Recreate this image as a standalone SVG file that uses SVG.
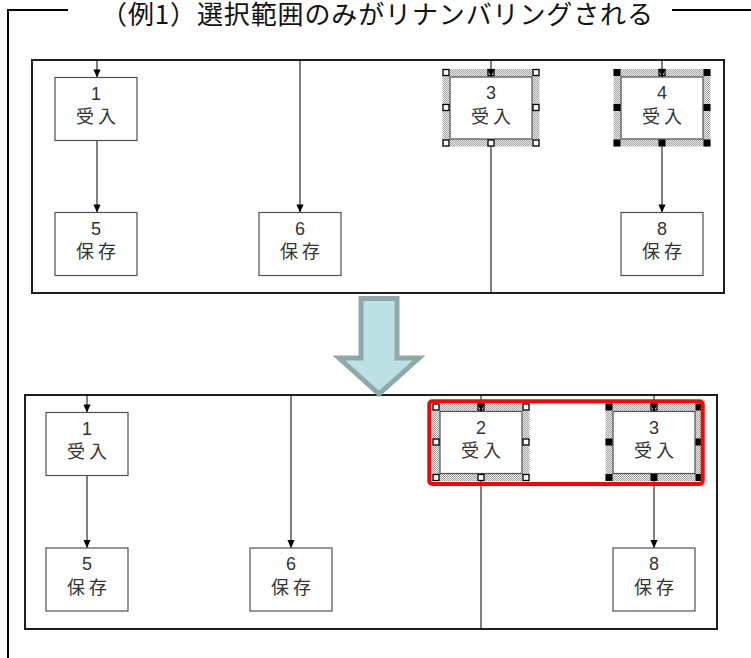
<svg xmlns="http://www.w3.org/2000/svg" width="751" height="658" viewBox="0 0 751 658">
<style>
.frame{fill:none;stroke:#000;stroke-width:2}
.panel{fill:#fff;stroke:#1e1e1e;stroke-width:2}
.box{fill:#fff;stroke:#505050;stroke-width:1.2}
.lbl{font-family:"Noto Sans CJK JP","Noto Sans",sans-serif;font-size:18px;fill:#333;text-anchor:middle;letter-spacing:4px}
.num{font-family:"Liberation Sans","Noto Sans",sans-serif;font-size:18px;fill:#333;text-anchor:middle}
.title{font-family:"Noto Sans CJK JP","Noto Sans",sans-serif;font-size:26px;fill:#111;text-anchor:middle}
.conn{fill:none;stroke:#000;stroke-width:1}
.hatch{fill:url(#dots)}
.hw{fill:#fff;stroke:#000;stroke-width:1.3}
.hb{fill:#000}
.sel{fill:none;stroke:#ff0000;stroke-width:4}
</style>
<defs>
<pattern id="dots" width="2" height="2" patternUnits="userSpaceOnUse">
<rect width="2" height="2" fill="#efefef"/>
<rect width="1" height="1" fill="#a0a0a0"/>
<rect x="1" y="1" width="1" height="1" fill="#a0a0a0"/>
</pattern>
<marker id="ah" viewBox="0 0 10 10" refX="10" refY="5" markerWidth="9" markerHeight="8" markerUnits="userSpaceOnUse" orient="auto">
<path d="M0,0.5 L10,5 L0,9.5 z" fill="#000"/>
</marker>
</defs>
<rect width="751" height="658" fill="#fff"/>

<g id="outer-frame">
<polyline class="frame" points="68,10 8,10 8,658"/>
<line class="frame" x1="672" y1="10" x2="751" y2="10"/>
<text class="title" x="377" y="24" textLength="552" lengthAdjust="spacing">（例1）選択範囲のみがリナンバリングされる</text>
</g>

<g id="panel-top"><rect class="panel" x="32" y="60" width="692" height="233"/></g>
<g id="panel-bottom"><rect class="panel" x="25" y="395" width="692" height="234"/></g>

<g id="connectors">
<line class="conn" x1="97" y1="60" x2="97" y2="77.5" marker-end="url(#ah)"/>
<line class="conn" x1="97" y1="140.5" x2="97" y2="212.5" marker-end="url(#ah)"/>
<line class="conn" x1="300" y1="60" x2="300" y2="212.5" marker-end="url(#ah)"/>
<line class="conn" x1="491" y1="139" x2="491" y2="293"/>
<line class="conn" x1="662" y1="139" x2="662" y2="212.5" marker-end="url(#ah)"/>
<line class="conn" x1="87" y1="395" x2="87" y2="412.5" marker-end="url(#ah)"/>
<line class="conn" x1="87" y1="475.5" x2="87" y2="548" marker-end="url(#ah)"/>
<line class="conn" x1="291" y1="395" x2="291" y2="548" marker-end="url(#ah)"/>
<line class="conn" x1="481" y1="473.5" x2="481" y2="629"/>
<line class="conn" x1="654" y1="473.5" x2="654" y2="548" marker-end="url(#ah)"/>
</g>

<g id="t-node1"><rect class="box" x="55" y="77.5" width="82" height="63"/><text class="num" x="96" y="99.5">1</text><text class="lbl" x="98" y="123">受入</text></g>
<g id="t-node5"><rect class="box" x="55" y="212.5" width="82" height="63"/><text class="num" x="96" y="234.5">5</text><text class="lbl" x="98" y="258">保存</text></g>
<g id="t-node6"><rect class="box" x="259" y="212.5" width="82" height="63"/><text class="num" x="300" y="234.5">6</text><text class="lbl" x="302" y="258">保存</text></g>
<g id="t-node8"><rect class="box" x="621" y="212.5" width="82" height="63"/><text class="num" x="662" y="234.5">8</text><text class="lbl" x="664" y="258">保存</text></g>

<g id="t-node3">
<rect class="hatch" x="442.5" y="69" width="97" height="77.5"/>
<rect class="box" x="450" y="77" width="82" height="62"/>
<text class="num" x="491" y="99">3</text><text class="lbl" x="493" y="122.5">受入</text>
<rect class="hw" x="443" y="69.5" width="6" height="6"/><rect class="hw" x="533" y="69.5" width="6" height="6"/>
<rect class="hw" x="443" y="140" width="6" height="6"/><rect class="hw" x="533" y="140" width="6" height="6"/>
<rect class="hw" x="443" y="104.5" width="6" height="6"/><rect class="hw" x="533" y="104.5" width="6" height="6"/>
<rect class="hw" x="488" y="69.5" width="6" height="6"/><rect class="hw" x="488" y="140" width="6" height="6"/>
<line class="conn" x1="491" y1="60" x2="491" y2="77" marker-end="url(#ah)"/>
</g>

<g id="t-node4">
<rect class="hatch" x="613.5" y="69" width="97" height="77.5"/>
<rect class="box" x="621" y="77" width="82" height="62"/>
<text class="num" x="662" y="99">4</text><text class="lbl" x="664" y="122.5">受入</text>
<rect class="hb" x="613.5" y="69" width="7" height="7"/><rect class="hb" x="703.5" y="69" width="7" height="7"/>
<rect class="hb" x="613.5" y="139.5" width="7" height="7"/><rect class="hb" x="703.5" y="139.5" width="7" height="7"/>
<rect class="hb" x="613.5" y="104" width="7" height="7"/><rect class="hb" x="703.5" y="104" width="7" height="7"/>
<rect class="hw" x="659" y="69.5" width="6" height="6"/><rect class="hb" x="658.5" y="139.5" width="7" height="7"/>
<line class="conn" x1="662" y1="60" x2="662" y2="77" marker-end="url(#ah)"/>
</g>

<g id="b-node1"><rect class="box" x="46" y="412.5" width="82" height="63"/><text class="num" x="87" y="434.5">1</text><text class="lbl" x="89" y="458">受入</text></g>
<g id="b-node5"><rect class="box" x="46" y="548" width="82" height="63"/><text class="num" x="87" y="570">5</text><text class="lbl" x="89" y="593.5">保存</text></g>
<g id="b-node6"><rect class="box" x="250" y="548" width="82" height="63"/><text class="num" x="291" y="570">6</text><text class="lbl" x="293" y="593.5">保存</text></g>
<g id="b-node8"><rect class="box" x="613" y="548" width="82" height="63"/><text class="num" x="654" y="570">8</text><text class="lbl" x="656" y="593.5">保存</text></g>

<g id="b-node2">
<rect class="hatch" x="432.5" y="403.5" width="97" height="77.5"/>
<rect class="box" x="440" y="411.5" width="82" height="62"/>
<text class="num" x="481" y="433.5">2</text><text class="lbl" x="483" y="457">受入</text>
<rect class="hw" x="433" y="404" width="6" height="6"/><rect class="hw" x="523" y="404" width="6" height="6"/>
<rect class="hw" x="433" y="474.5" width="6" height="6"/><rect class="hw" x="523" y="474.5" width="6" height="6"/>
<rect class="hw" x="433" y="439" width="6" height="6"/><rect class="hw" x="523" y="439" width="6" height="6"/>
<rect class="hw" x="478" y="404" width="6" height="6"/><rect class="hw" x="478" y="474.5" width="6" height="6"/>
<line class="conn" x1="481" y1="395" x2="481" y2="411.5" marker-end="url(#ah)"/>
</g>

<g id="b-node3">
<rect class="hatch" x="605.5" y="403.5" width="97" height="77.5"/>
<rect class="box" x="613" y="411.5" width="82" height="62"/>
<text class="num" x="654" y="433.5">3</text><text class="lbl" x="656" y="457">受入</text>
<rect class="hb" x="605.5" y="403.5" width="7" height="7"/><rect class="hb" x="695.5" y="403.5" width="7" height="7"/>
<rect class="hb" x="605.5" y="474" width="7" height="7"/><rect class="hb" x="695.5" y="474" width="7" height="7"/>
<rect class="hb" x="605.5" y="438.5" width="7" height="7"/><rect class="hb" x="695.5" y="438.5" width="7" height="7"/>
<rect class="hw" x="651" y="404" width="6" height="6"/><rect class="hb" x="650.5" y="474" width="7" height="7"/>
<line class="conn" x1="654" y1="395" x2="654" y2="411.5" marker-end="url(#ah)"/>
</g>

<g id="selection-range"><rect class="sel" x="429.3" y="401.3" width="273.4" height="82.7" rx="3"/></g>

<g id="down-arrow">
<polygon points="361,298.5 397,298.5 397,358 419,358 379,394 339,358 361,358" fill="#bde0e4" stroke="#8ea9aa" stroke-width="5" stroke-linejoin="miter"/>
</g>
</svg>
